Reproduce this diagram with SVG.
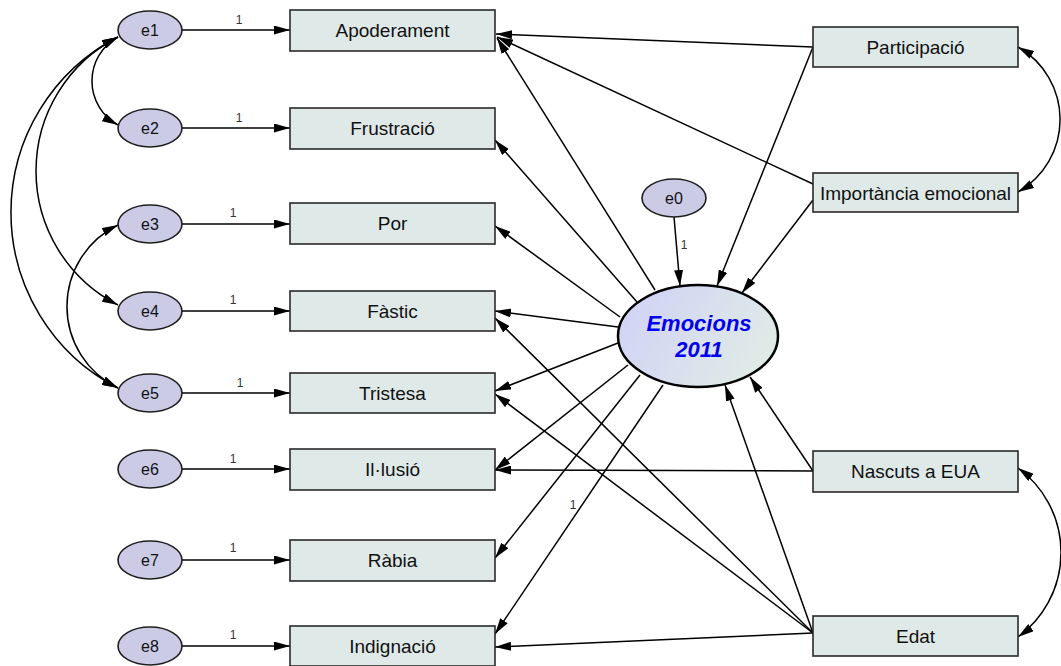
<svg xmlns="http://www.w3.org/2000/svg" width="1061" height="666" viewBox="0 0 1061 666">
<defs>
<marker id="ah" viewBox="0 0 16 9" refX="16" refY="4.5" markerWidth="16" markerHeight="9" markerUnits="userSpaceOnUse" orient="auto-start-reverse">
<path d="M0,0 L16,4.5 L0,9 z" fill="#000"/>
</marker>
<linearGradient id="lg" x1="0" y1="0" x2="1" y2="0.4">
<stop offset="0" stop-color="#cfd0f7"/>
<stop offset="1" stop-color="#dfeae7"/>
</linearGradient>
</defs>
<style>
.box{fill:#dfe9e8;stroke:#2a2a2a;stroke-width:1.6}
.err{fill:#cbcbe6;stroke:#1e1e1e;stroke-width:1.6}
.t{font-family:"Liberation Sans",Arial,sans-serif;font-size:19px;fill:#111;text-anchor:middle}
.te{font-family:"Liberation Sans",Arial,sans-serif;font-size:16px;fill:#111;text-anchor:middle}
.one{font-family:"Liberation Sans",Arial,sans-serif;font-size:12px;fill:#333;text-anchor:middle}
.c line,.c path{stroke:#000;stroke-width:1.5;fill:none;marker-end:url(#ah)}
.c path.cov{marker-start:url(#ah)}
</style>
<rect width="1061" height="666" fill="#fff"/>
<g id="connectors" class="c">
<line x1="182" y1="30" x2="290" y2="30"/>
<line x1="182" y1="128" x2="290" y2="128"/>
<line x1="182" y1="224" x2="290" y2="224"/>
<line x1="182" y1="311" x2="290" y2="311"/>
<line x1="182" y1="393" x2="290" y2="393"/>
<line x1="182" y1="469" x2="290" y2="469"/>
<line x1="182" y1="560" x2="290" y2="560"/>
<line x1="182" y1="646" x2="290" y2="646"/>
<line x1="674" y1="217" x2="680" y2="286"/>
<line x1="655" y1="290" x2="497" y2="38"/>
<line x1="637" y1="302" x2="495" y2="140"/>
<line x1="620" y1="317" x2="495" y2="226"/>
<line x1="618" y1="327" x2="495" y2="311"/>
<line x1="618" y1="343" x2="495" y2="391"/>
<line x1="628" y1="365" x2="495" y2="470"/>
<line x1="640" y1="375" x2="495" y2="558"/>
<line x1="663" y1="385" x2="495" y2="634"/>
<line x1="813" y1="47" x2="496" y2="34"/>
<line x1="813" y1="47" x2="717" y2="286"/>
<line x1="813" y1="184" x2="497" y2="37"/>
<line x1="813" y1="200" x2="742" y2="293"/>
<line x1="813" y1="471" x2="495" y2="470"/>
<line x1="813" y1="471" x2="750" y2="377"/>
<line x1="813" y1="633" x2="725" y2="385"/>
<line x1="813" y1="633" x2="495" y2="318"/>
<line x1="813" y1="633" x2="495" y2="394"/>
<line x1="813" y1="633" x2="495" y2="647"/>
<path class="cov" d="M118,37 A50.2,50.2 0 0 0 118,125"/>
<path class="cov" d="M118,37 A150.5,150.5 0 0 0 118,305"/>
<path class="cov" d="M118,37 A197.4,197.4 0 0 0 118,388"/>
<path class="cov" d="M118,225 A90.6,90.6 0 0 0 118,388"/>
<path class="cov" d="M1018,47 A83.5,83.5 0 0 1 1018,192"/>
<path class="cov" d="M1018,468 A104.5,104.5 0 0 1 1018,637"/>
<text class="one" x="239" y="24">1</text>
<text class="one" x="239" y="122">1</text>
<text class="one" x="233" y="217">1</text>
<text class="one" x="233" y="304">1</text>
<text class="one" x="240" y="387">1</text>
<text class="one" x="233" y="463">1</text>
<text class="one" x="233" y="552">1</text>
<text class="one" x="233" y="639">1</text>
<text class="one" x="684" y="249">1</text>
<text class="one" x="573" y="509">1</text>
</g>
<g id="e1"><ellipse class="err" cx="150" cy="30" rx="32" ry="19"/><text class="te" x="150" y="36">e1</text></g>
<g id="e2"><ellipse class="err" cx="150" cy="128" rx="32" ry="19"/><text class="te" x="150" y="134">e2</text></g>
<g id="e3"><ellipse class="err" cx="150" cy="224" rx="32" ry="19"/><text class="te" x="150" y="230">e3</text></g>
<g id="e4"><ellipse class="err" cx="150" cy="311" rx="32" ry="19"/><text class="te" x="150" y="317">e4</text></g>
<g id="e5"><ellipse class="err" cx="150" cy="393" rx="32" ry="19"/><text class="te" x="150" y="399">e5</text></g>
<g id="e6"><ellipse class="err" cx="150" cy="469" rx="32" ry="19"/><text class="te" x="150" y="475">e6</text></g>
<g id="e7"><ellipse class="err" cx="150" cy="560" rx="32" ry="19"/><text class="te" x="150" y="566">e7</text></g>
<g id="e8"><ellipse class="err" cx="150" cy="646" rx="32" ry="19"/><text class="te" x="150" y="652">e8</text></g>
<g id="e0"><ellipse class="err" cx="674" cy="198" rx="32" ry="19"/><text class="te" x="674" y="204">e0</text></g>
<g id="apoderament"><rect class="box" x="290" y="10" width="205" height="41"/><text class="t" x="392.5" y="37">Apoderament</text></g>
<g id="frustracio"><rect class="box" x="290" y="108" width="205" height="41"/><text class="t" x="392.5" y="135">Frustració</text></g>
<g id="por"><rect class="box" x="290" y="203" width="205" height="41"/><text class="t" x="392.5" y="230">Por</text></g>
<g id="fastic"><rect class="box" x="290" y="291" width="205" height="40"/><text class="t" x="392.5" y="318">Fàstic</text></g>
<g id="tristesa"><rect class="box" x="290" y="373" width="205" height="40"/><text class="t" x="392.5" y="400">Tristesa</text></g>
<g id="illusio"><rect class="box" x="290" y="449" width="205" height="41"/><text class="t" x="392.5" y="476">Il·lusió</text></g>
<g id="rabia"><rect class="box" x="290" y="540" width="205" height="41"/><text class="t" x="392.5" y="567">Ràbia</text></g>
<g id="indignacio"><rect class="box" x="290" y="626" width="205" height="40"/><text class="t" x="392.5" y="653">Indignació</text></g>
<g id="participacio"><rect class="box" x="813" y="27" width="205" height="40"/><text class="t" x="915.5" y="54">Participació</text></g>
<g id="importancia"><rect class="box" x="813" y="173" width="205" height="39"/><text class="t" x="915.5" y="200">Importància emocional</text></g>
<g id="nascuts"><rect class="box" x="813" y="451" width="205" height="41"/><text class="t" x="915.5" y="478">Nascuts a EUA</text></g>
<g id="edat"><rect class="box" x="813" y="616" width="205" height="40"/><text class="t" x="915.5" y="643">Edat</text></g>
<g id="emocions"><ellipse cx="698" cy="336" rx="80" ry="51" fill="url(#lg)" stroke="#000" stroke-width="2.5"/>
<text x="699" y="331" font-family="'Liberation Sans',Arial,sans-serif" font-size="22" font-weight="bold" font-style="italic" fill="#0000ee" text-anchor="middle">Emocions</text>
<text x="699" y="357" font-family="'Liberation Sans',Arial,sans-serif" font-size="22" font-weight="bold" font-style="italic" fill="#0000ee" text-anchor="middle">2011</text></g>
</svg>
